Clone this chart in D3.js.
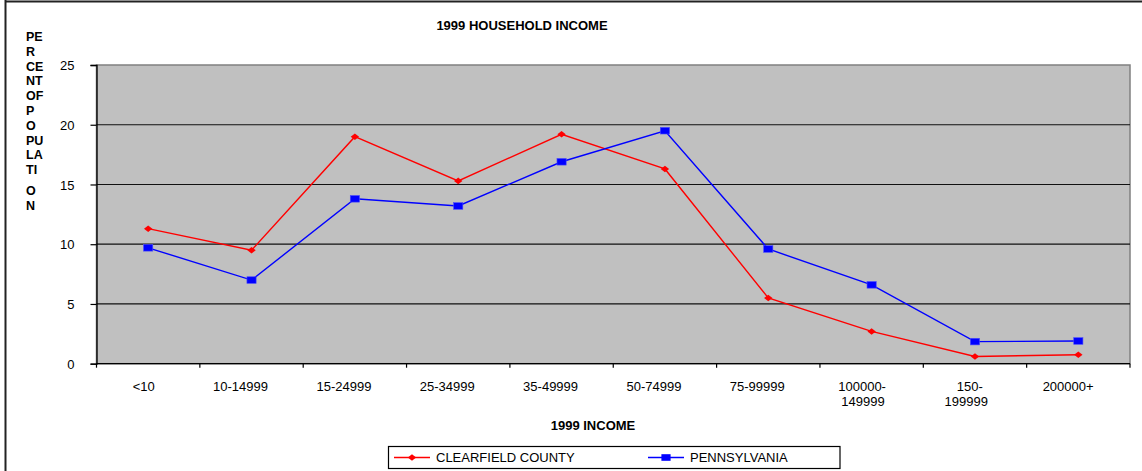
<!DOCTYPE html>
<html>
<head>
<meta charset="utf-8">
<script src="https://cdn.jsdelivr.net/npm/d3@7"></script>
<style>
  body { margin: 0; background: #fff; }
  text { font-family: Arial, "Liberation Sans", sans-serif; fill: #000; }
</style>
</head>
<body>
<script>
// categories (multi-line labels split into lines)
var categories = ["<10", "10-14999", "15-24999", "25-34999", "35-49999", "50-74999", "75-99999", "100000-149999", "150-199999", "200000+"];
var categoryLines = [["<10"], ["10-14999"], ["15-24999"], ["25-34999"], ["35-49999"], ["50-74999"], ["75-99999"], ["100000-", "149999"], ["150-", "199999"], ["200000+"]];

// percent of population
var clearfield = [11.3, 9.5, 19.0, 15.3, 19.2, 16.3, 5.5, 2.7, 0.6, 0.75];
var pennsylvania = [9.7, 7.0, 13.8, 13.2, 16.9, 19.5, 9.6, 6.6, 1.85, 1.9];

var yTicks = [0, 5, 10, 15, 20, 25];
var yLabelLines = ["PE", "R", "CE", "NT", "OF", "P", "O", "PU", "LA", "TI", "O", "N"];

var w = 1142, h = 471;

var svg = d3.select("body").append("svg")
    .attr("width", w)
    .attr("height", h);

// outer chart border (left and top are visible)
svg.append("line").attr("x1", 5.5).attr("x2", 5.5).attr("y1", 0).attr("y2", h)
    .attr("stroke", "#222").attr("stroke-width", 2);
svg.append("line").attr("x1", 5).attr("x2", w).attr("y1", 1.5).attr("y2", 1.5)
    .attr("stroke", "#222").attr("stroke-width", 2);

var x = d3.scaleBand()
    .domain(categories)
    .range([96.5, 1130])
    .padding(0);

var y = d3.scaleLinear()
    .domain([0, 25])
    .range([363.7, 65]);

var bw = x.bandwidth();

// plot area
svg.append("rect")
    .attr("x", x.range()[0])
    .attr("y", y(25))
    .attr("width", x.range()[1] - x.range()[0])
    .attr("height", y(0) - y(25))
    .attr("fill", "#c0c0c0")
    .attr("stroke", "#808080")
    .attr("stroke-width", 1.5);

// gridlines
svg.selectAll(".grid")
    .data(yTicks.filter(function(d) { return d > 0 && d < 25; }))
    .enter().append("line")
    .attr("class", "grid")
    .attr("x1", x.range()[0]).attr("x2", x.range()[1])
    .attr("y1", function(d) { return y(d); })
    .attr("y2", function(d) { return y(d); })
    .attr("stroke", "#111")
    .attr("stroke-width", 1.2);

// y axis
var yAxis = svg.append("g")
    .attr("transform", "translate(" + x.range()[0] + ",0)")
    .call(d3.axisLeft(y).tickValues(yTicks).tickSize(6).tickPadding(16).tickFormat(d3.format("d")));
yAxis.select(".domain").attr("stroke", "#000").attr("stroke-width", 1.3);
yAxis.selectAll(".tick line").attr("stroke", "#000").attr("stroke-width", 1.2);
yAxis.selectAll(".tick text")
    .style("font-family", "Arial, 'Liberation Sans', sans-serif")
    .style("font-size", "13px")
    .attr("dy", "0.36em");

// x axis line and boundary ticks
svg.append("line")
    .attr("x1", x.range()[0]).attr("x2", x.range()[1])
    .attr("y1", y(0)).attr("y2", y(0))
    .attr("stroke", "#000").attr("stroke-width", 1.3);

var boundaries = categories.map(function(c) { return x(c); }).concat([x.range()[1]]);
svg.selectAll(".xtick")
    .data(boundaries)
    .enter().append("line")
    .attr("class", "xtick")
    .attr("x1", function(d) { return d; }).attr("x2", function(d) { return d; })
    .attr("y1", y(0)).attr("y2", y(0) + 4)
    .attr("stroke", "#000").attr("stroke-width", 1.2);

// category labels
var xl = svg.selectAll(".xlabel")
    .data(categories)
    .enter().append("text")
    .attr("class", "xlabel")
    .attr("text-anchor", "middle")
    .style("font-size", "13px")
    .attr("transform", function(d) { return "translate(" + (x(d) + bw / 2) + ",390.5)"; });

xl.each(function(d, i) {
    var t = d3.select(this);
    categoryLines[i].forEach(function(line, j) {
        var ts = t.append("tspan").attr("x", 0).attr("y", j * 15.3).text(line);
        var len = ts.node().getComputedTextLength();
        ts.attr("x", -0.2 * len);
    });
});

// lines and markers
var line = d3.line()
    .x(function(d, i) { return x(categories[i]) + bw / 2; })
    .y(function(d) { return y(d); });

svg.append("path")
    .datum(clearfield)
    .attr("d", line)
    .attr("fill", "none")
    .attr("stroke", "#ff0000")
    .attr("stroke-width", 1.4);

svg.append("path")
    .datum(pennsylvania)
    .attr("d", line)
    .attr("fill", "none")
    .attr("stroke", "#0000ff")
    .attr("stroke-width", 1.4);

var diamond = "M0,-3.3L4.2,0L0,3.3L-4.2,0Z";

svg.selectAll(".cf")
    .data(clearfield)
    .enter().append("path")
    .attr("class", "cf")
    .attr("d", diamond)
    .attr("transform", function(d, i) { return "translate(" + (x(categories[i]) + bw / 2) + "," + y(d) + ")"; })
    .attr("fill", "#ff0000");

svg.selectAll(".pa")
    .data(pennsylvania)
    .enter().append("rect")
    .attr("class", "pa")
    .attr("x", function(d, i) { return x(categories[i]) + bw / 2 - 4.6; })
    .attr("y", function(d) { return y(d) - 3.3; })
    .attr("width", 9.2)
    .attr("height", 6.6)
    .attr("fill", "#0000ff")
    .attr("stroke", "#4a4aff")
    .attr("stroke-width", 0.6);

// titles
svg.append("text")
    .attr("x", 522).attr("y", 30)
    .attr("text-anchor", "middle")
    .style("font-size", "13px")
    .style("font-weight", "bold")
    .text("1999 HOUSEHOLD INCOME");

svg.append("text")
    .attr("x", 593).attr("y", 430)
    .attr("text-anchor", "middle")
    .style("font-size", "13px")
    .style("font-weight", "bold")
    .text("1999 INCOME");

// stacked y axis title
svg.append("g").selectAll("text")
    .data(yLabelLines)
    .enter().append("text")
    .attr("x", 26)
    .attr("y", function(d, i) { return 41 + i * 14.8 + (i >= 10 ? 6 : 0); })
    .style("font-size", "12.5px")
    .style("font-weight", "bold")
    .text(function(d) { return d; });

// legend
var legend = svg.append("g");
legend.append("rect")
    .attr("x", 388.5).attr("y", 446.5)
    .attr("width", 451.5).attr("height", 22)
    .attr("fill", "#fff")
    .attr("stroke", "#000")
    .attr("stroke-width", 1.2);

var legendItems = [
    { name: "CLEARFIELD COUNTY", color: "#ff0000", shape: "diamond", x: 394 },
    { name: "PENNSYLVANIA", color: "#0000ff", shape: "square", x: 648 }
];

legendItems.forEach(function(item) {
    var ly = 457.5;
    legend.append("line")
        .attr("x1", item.x).attr("x2", item.x + 36)
        .attr("y1", ly).attr("y2", ly)
        .attr("stroke", item.color).attr("stroke-width", 1.4);
    if (item.shape === "diamond") {
        legend.append("path")
            .attr("d", diamond)
            .attr("transform", "translate(" + (item.x + 18) + "," + ly + ")")
            .attr("fill", item.color);
    } else {
        legend.append("rect")
            .attr("x", item.x + 18 - 4.6).attr("y", ly - 3.3)
            .attr("width", 9.2).attr("height", 6.6)
            .attr("fill", item.color);
    }
    legend.append("text")
        .attr("x", item.x + 42).attr("y", ly + 4.6)
        .style("font-size", "13px")
        .text(item.name);
});
</script>
</body>
</html>
